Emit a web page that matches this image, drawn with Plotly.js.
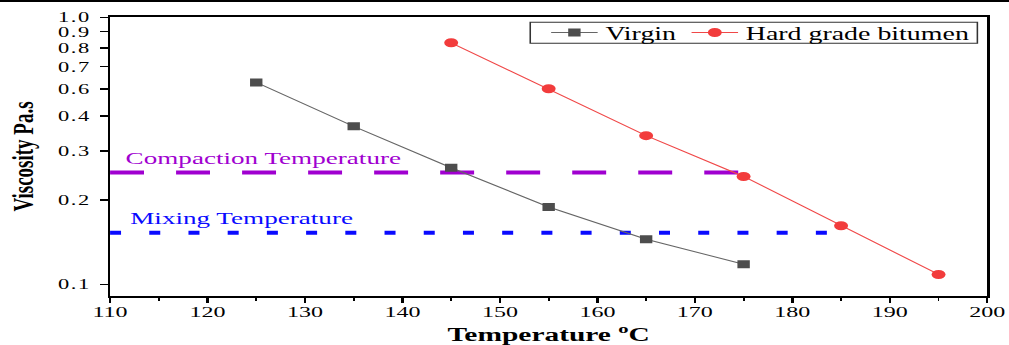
<!DOCTYPE html>
<html><head><meta charset="utf-8">
<script src="https://cdn.plot.ly/plotly-3.0.1.min.js"></script>
<style>
html,body{margin:0;padding:0;background:#fff;overflow:hidden;}
#wrap{width:1009px;height:345px;overflow:hidden;}
#chart{width:651px;height:345px;transform:scaleX(1.5499);transform-origin:0 0;}
.ytick text{letter-spacing:1px;}
</style></head><body><div id="wrap"><div id="chart"></div></div>
<script>
// ---- data ----
const virginTemps = [125, 135, 145, 155, 165, 175];
const virginVisc  = [0.527, 0.367, 0.261, 0.189, 0.145, 0.118];
const hardTemps   = [145, 155, 165, 175, 185, 195];
const hardVisc    = [0.730, 0.500, 0.340, 0.243, 0.162, 0.1085];
const compactionX = [110, 175];
const compactionY = [0.251, 0.251];
const mixingX     = [110, 185];
const mixingY     = [0.153, 0.153];
const yTickVals   = [0.1, 0.2, 0.3, 0.4, 0.5, 0.6, 0.7, 0.8, 0.9];
const yTickText   = ["0.1", "0.2", "0.3", "0.4", "0.6", "0.7", "0.8", "0.9", "1.0"];
const xTickVals   = [110, 120, 130, 140, 150, 160, 170, 180, 190, 200];

const FONT = "Liberation Serif, Times New Roman, serif";
const PURPLE = "#a000d0";
const BLUE = "#0a0aff";

const traces = [
  {x: compactionX, y: compactionY, mode: "lines", showlegend: false, hoverinfo: "skip",
   line: {color: PURPLE, width: 4, dash: "21.9px,20.7px"}},
  {x: mixingX, y: mixingY, mode: "lines", showlegend: false, hoverinfo: "skip",
   line: {color: BLUE, width: 4, dash: "7.1px,18.2px"}},
  {x: virginTemps, y: virginVisc, name: "Virgin", mode: "lines+markers",
   line: {color: "#666666", width: 1},
   marker: {symbol: "square", size: 8, color: "#4d4d4d"}},
  {x: hardTemps, y: hardVisc, name: "Hard grade bitumen", mode: "lines+markers",
   line: {color: "#f04848", width: 1},
   marker: {symbol: "circle", size: 9, color: "#f23c3c"}}
];

const layout = {
  width: 651, height: 345,
  margin: {l: 71, r: 14, t: 17, b: 49},
  paper_bgcolor: "#ffffff", plot_bgcolor: "#ffffff",
  font: {family: FONT, size: 17, color: "#000"},
  showlegend: true,
  legend: {orientation: "h", x: 0.9887, xanchor: "right", y: 0.9434, yanchor: "middle",
           bgcolor: "rgba(0,0,0,0)", borderwidth: 0,
           font: {family: FONT, size: 18, color: "#000"}, tracegroupgap: 0},
  xaxis: {range: [110, 200], tickvals: xTickVals, ticks: "outside", ticklen: 5, tickwidth: 1.5,
          tickcolor: "#000", showgrid: false, zeroline: false,
          showline: true, linecolor: "#000", linewidth: 2, mirror: true,
          minor: {dtick: 5, ticks: "outside", ticklen: 3, tickwidth: 1.2, tickcolor: "#000", showgrid: false},
          tickfont: {family: FONT, size: 15.5, color: "#000"},
          title: {text: "<b>Temperature <sup>o</sup>C</b>", font: {family: FONT, size: 19, color: "#000"}, standoff: 10}},
  yaxis: {type: "log", range: [-1.0416, -0.0445], tickvals: yTickVals, ticktext: yTickText,
          ticks: "outside", ticklen: 5, tickwidth: 1.5, tickcolor: "#000",
          showgrid: false, zeroline: false, showline: true, linecolor: "#000", linewidth: 1.5, mirror: true,
          ticklabelstandoff: 3,
          tickfont: {family: FONT, size: 14.5, color: "#000"},
          title: {text: "<b>Viscosity Pa.s</b>", font: {family: FONT, size: 19, color: "#000"}, standoff: 10}},
  annotations: [
    {x: 111.2, y: -0.5487, xref: "x", yref: "y", xanchor: "left", yanchor: "middle", showarrow: false,
     text: "Compaction Temperature", font: {family: FONT, size: 17.5, color: PURPLE}},
    {x: 111.75, y: -0.762, xref: "x", yref: "y", xanchor: "left", yanchor: "middle", showarrow: false,
     text: "Mixing Temperature", font: {family: FONT, size: 17.5, color: BLUE}}
  ],
  shapes: [
    {type: "line", xref: "paper", yref: "paper", x0: -0.13, x1: 1.03, y0: 1.0571, y1: 1.0571,
     line: {color: "#000", width: 2}},
    {type: "rect", xref: "paper", yref: "paper", x0: 0.479, x1: 0.9887, y0: 0.9058, y1: 0.981,
     line: {color: "#333333", width: 1}, fillcolor: "rgba(0,0,0,0)", layer: "above"}
  ]
};

Plotly.newPlot("chart", traces, layout, {displayModeBar: false, staticPlot: true}).then(function () {
  // nudge x tick labels a little closer to the axis, as in the reference
  document.querySelectorAll("#chart .xtick text").forEach(function (t) {
    const y = parseFloat(t.getAttribute("y") || "0");
    t.setAttribute("y", String(y - 5));
  });
});
</script></body></html>
